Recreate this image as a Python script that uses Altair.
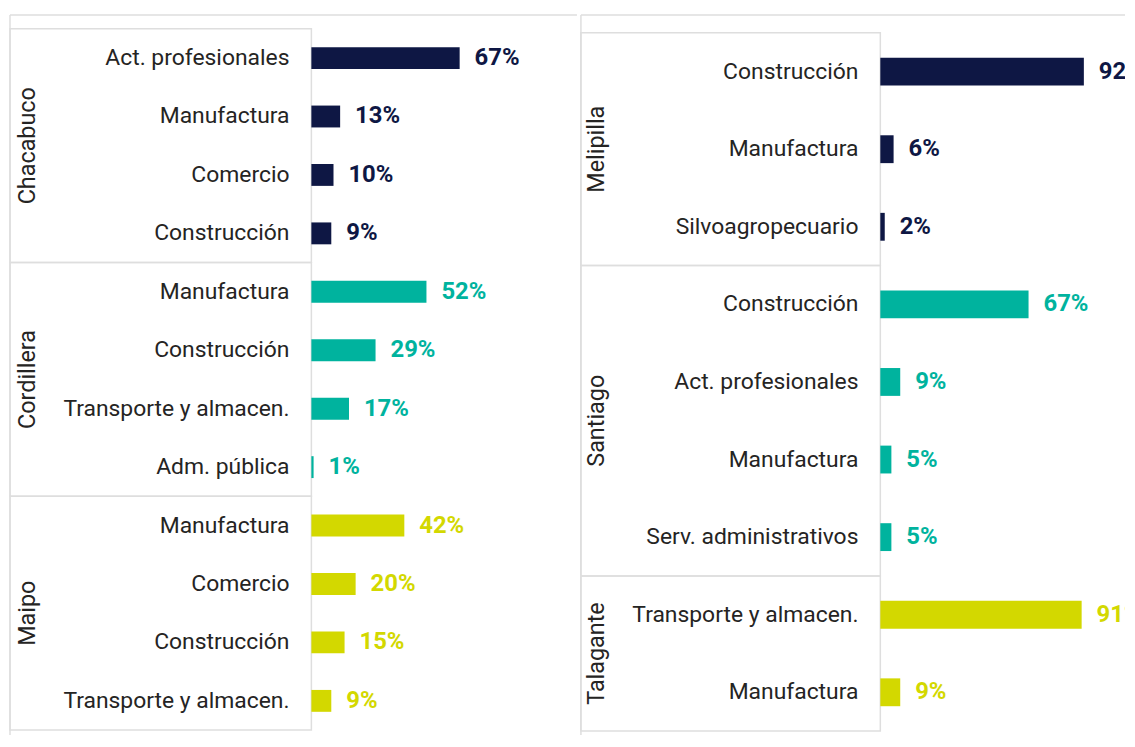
import altair as alt
import pandas as pd

FONT = "Roboto"
GRID = "#DEDEDE"
TXT = "#252423"

NAVY = "#0E1744"
TEAL = "#00B39E"
LIME = "#D3D800"

# ---- data (left column) ----
prov_izq = ["Chacabuco", "Cordillera", "Maipo"]

cat_chacabuco = ["Act. profesionales", "Manufactura", "Comercio", "Construcción"]
val_chacabuco = [67, 13, 10, 9]

cat_cordillera = ["Manufactura", "Construcción", "Transporte y almacen.", "Adm. pública"]
val_cordillera = [52, 29, 17, 1]

cat_maipo = ["Manufactura", "Comercio", "Construcción", "Transporte y almacen."]
val_maipo = [42, 20, 15, 9]

# ---- data (right column) ----
prov_der = ["Melipilla", "Santiago", "Talagante"]

cat_melipilla = ["Construcción", "Manufactura", "Silvoagropecuario"]
val_melipilla = [92, 6, 2]

cat_santiago = ["Construcción", "Act. profesionales", "Manufactura", "Serv. administrativos"]
val_santiago = [67, 9, 5, 5]

cat_talagante = ["Transporte y almacen.", "Manufactura"]
val_talagante = [91, 9]

colores = [NAVY, TEAL, LIME]


def columna(provs, cats_list, vals_list, box_w, bar_w, xmax, step,
            top_px, bot_px, title_x, bar_size, clip):
    filas, cajas = [], []
    idx = 0
    for p, cats, vals, col in zip(provs, cats_list, vals_list, colores):
        n = len(cats)
        cajas.append({"provincia": p, "ini": idx, "fin": idx + n,
                      "medio": idx + n / 2})
        for c, v in zip(cats, vals):
            filas.append({"provincia": p, "categoria": c, "valor": v,
                          "pos": idx + 0.5, "color": col})
            idx += 1
    N = idx
    H = top_px + N * step + bot_px
    W = box_w + bar_w
    xmin = -box_w * xmax / bar_w

    df = pd.DataFrame(filas)
    dc = pd.DataFrame(cajas)
    d1 = pd.DataFrame({"a": [0]})

    ysc = alt.Scale(domain=[N + bot_px / step, -top_px / step],
                    nice=False, zero=False, padding=0)
    xsc = alt.Scale(domain=[xmin, xmax], nice=False, zero=False, padding=0)

    Y = alt.Y("pos:Q", scale=ysc, axis=None)
    X = alt.X("valor:Q", scale=xsc, axis=None)
    C = alt.Color("color:N", scale=None)

    cajas_l = alt.Chart(dc).mark_rect(
        fillOpacity=0, stroke=GRID, strokeWidth=1.5
    ).encode(
        x=alt.value(0), x2=alt.value(box_w),
        y=alt.Y("ini:Q", scale=ysc, axis=None), y2="fin:Q",
    )
    titulos = alt.Chart(dc).mark_text(
        angle=270, font=FONT, fontSize=23.5, color=TXT,
        baseline="middle", align="center"
    ).encode(
        x=alt.value(title_x), y=alt.Y("medio:Q", scale=ysc, axis=None),
        text="provincia:N",
    )
    barras = alt.Chart(df).mark_bar(size=bar_size).encode(
        x=X, x2=alt.datum(0), y=Y, color=C)
    etiquetas = alt.Chart(df).transform_calculate(
        etiqueta="datum.valor + '%'"
    ).mark_text(
        align="left", baseline="middle", dx=15, font=FONT, fontSize=24,
        fontWeight="bold", clip=clip
    ).encode(x=X, y=Y, color=C, text="etiqueta:N")
    categorias = alt.Chart(df).mark_text(
        align="right", baseline="middle", dx=-22, font=FONT, fontSize=23,
        color=TXT
    ).encode(x=alt.value(box_w), y=Y, text="categoria:N")

    linea_sup = alt.Chart(d1).mark_rule(color=GRID, strokeWidth=1.5).encode(
        x=alt.value(0), x2=alt.value(W), y=alt.value(0))
    linea_izq = alt.Chart(d1).mark_rule(color=GRID, strokeWidth=1.5).encode(
        x=alt.value(0), y=alt.value(0), y2=alt.value(H))

    return alt.layer(
        linea_sup, linea_izq, cajas_l, titulos, barras, etiquetas, categorias
    ).properties(width=W, height=H)


STEP_L = 58.75
STEP_R = 78

izq = columna(prov_izq, [cat_chacabuco, cat_cordillera, cat_maipo],
              [val_chacabuco, val_cordillera, val_maipo],
              303, 267, 120, STEP_L, 14, 5, 18, 22, False)

der = columna(prov_der, [cat_melipilla, cat_santiago, cat_talagante],
              [val_melipilla, val_santiago, val_talagante],
              301, 246, 110.6, STEP_R, 18, 4, 16, 28, True)

chart = (
    alt.hconcat(izq, der, spacing=0)
    .properties(padding={"left": 0, "top": 3, "right": 0, "bottom": 0})
    .configure(font=FONT, view=alt.ViewConfig(stroke="transparent"))
)

chart.save("out.html", embed_options={"renderer": "svg", "actions": False})
